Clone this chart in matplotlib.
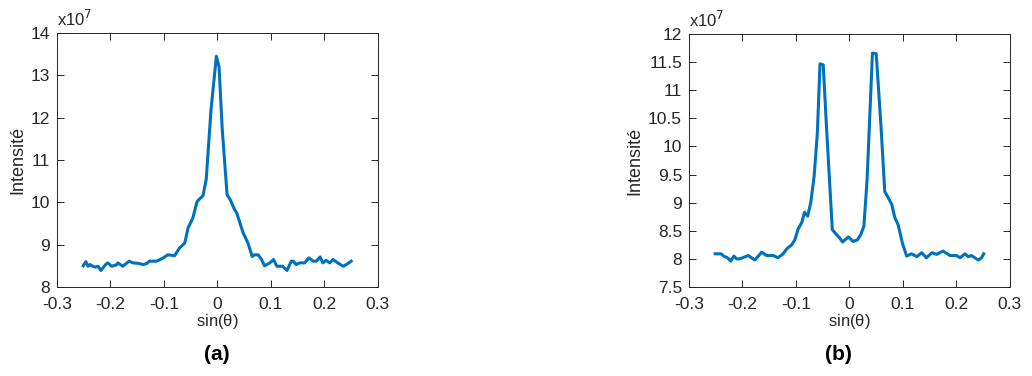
import matplotlib
matplotlib.use("Agg")
import matplotlib.pyplot as plt

# panel (a): single peak
xa = [-0.251, -0.246, -0.242, -0.238, -0.233, -0.228, -0.223, -0.218, -0.209, -0.205,
      -0.198, -0.189, -0.186, -0.177, -0.165, -0.158, -0.149, -0.139, -0.133, -0.127,
      -0.114, -0.102, -0.093, -0.080, -0.071, -0.061, -0.055, -0.046, -0.038, -0.027,
      -0.021, -0.012, -0.002, 0.003, 0.009, 0.018, 0.024, 0.032, 0.036, 0.048,
      0.057, 0.065, 0.069, 0.076, 0.082, 0.088, 0.098, 0.105, 0.111, 0.122,
      0.130, 0.138, 0.142, 0.147, 0.154, 0.163, 0.171, 0.179, 0.185, 0.192,
      0.197, 0.203, 0.210, 0.216, 0.225, 0.235, 0.241, 0.250]
ya = [8.50, 8.60, 8.49, 8.53, 8.49, 8.47, 8.49, 8.39, 8.53, 8.57,
      8.49, 8.52, 8.57, 8.49, 8.61, 8.57, 8.56, 8.53, 8.55, 8.61,
      8.61, 8.68, 8.76, 8.74, 8.92, 9.04, 9.39, 9.63, 10.02, 10.16,
      10.54, 12.19, 13.45, 13.20, 11.72, 10.18, 10.06, 9.83, 9.75, 9.28,
      9.04, 8.72, 8.76, 8.76, 8.66, 8.50, 8.57, 8.65, 8.49, 8.49,
      8.39, 8.61, 8.61, 8.53, 8.57, 8.57, 8.69, 8.61, 8.61, 8.71,
      8.57, 8.63, 8.57, 8.65, 8.57, 8.49, 8.53, 8.61]

# panel (b): double peak
xb = [-0.251, -0.240, -0.235, -0.228, -0.222, -0.216, -0.211, -0.205, -0.189, -0.177,
      -0.164, -0.155, -0.142, -0.134, -0.125, -0.117, -0.108, -0.102, -0.096, -0.089,
      -0.084, -0.078, -0.072, -0.066, -0.060, -0.055, -0.049, -0.043, -0.032, -0.024,
      -0.018, -0.013, -0.002, 0.007, 0.015, 0.021, 0.027, 0.033, 0.043, 0.050,
      0.059, 0.066, 0.073, 0.079, 0.085, 0.091, 0.099, 0.107, 0.116, 0.126,
      0.135, 0.144, 0.154, 0.163, 0.175, 0.188, 0.200, 0.207, 0.216, 0.222,
      0.228, 0.241, 0.247, 0.251]
yb = [8.09, 8.09, 8.05, 8.02, 7.96, 8.05, 8.00, 8.00, 8.06, 7.98,
      8.12, 8.06, 8.06, 8.02, 8.08, 8.18, 8.25, 8.34, 8.53, 8.65,
      8.83, 8.76, 9.02, 9.47, 10.24, 11.47, 11.45, 10.36, 8.52, 8.43,
      8.37, 8.30, 8.39, 8.31, 8.34, 8.43, 8.58, 9.41, 11.66, 11.65,
      10.36, 9.20, 9.08, 8.97, 8.73, 8.61, 8.28, 8.05, 8.09, 8.04,
      8.11, 8.02, 8.11, 8.08, 8.14, 8.06, 8.06, 8.02, 8.09, 8.04,
      8.06, 7.98, 8.02, 8.09]

xticks = [-0.3, -0.2, -0.1, 0, 0.1, 0.2, 0.3]
xticklabels = ["-0.3", "-0.2", "-0.1", "0", "0.1", "0.2", "0.3"]
yticks_a = [8, 9, 10, 11, 12, 13, 14]
yticks_b = [7.5, 8, 8.5, 9, 9.5, 10, 10.5, 11, 11.5, 12]
ytlabels_b = ["7.5", "8", "8.5", "9", "9.5", "10", "10.5", "11", "11.5", "12"]

line_color = "#0072BD"
axis_color = "#262626"

plt.rcParams.update({
    "font.family": ["Liberation Sans", "DejaVu Sans"],
    "font.size": 11,
})

fig = plt.figure(figsize=(10.32, 3.76), dpi=100)
ax_a = fig.add_axes([0.0552, 0.2367, 0.311, 0.6755])
ax_b = fig.add_axes([0.6676, 0.2367, 0.311, 0.6729])


def style(ax, yticks, ylabels, ylim):
    ax.set_xlim(-0.3, 0.3)
    ax.set_ylim(*ylim)
    ax.set_xticks(xticks)
    ax.set_xticklabels(xticklabels)
    ax.set_yticks(yticks)
    ax.set_yticklabels(ylabels)
    ax.tick_params(direction="in", length=5, width=0.7, top=True, right=True,
                   colors=axis_color, labelsize=12.5)
    ax.tick_params(axis="x", pad=7.5)
    ax.tick_params(axis="y", pad=5)
    for s in ax.spines.values():
        s.set_color(axis_color)
        s.set_linewidth(0.7)
    ax.set_xlabel(r"sin($\mathregular{\theta}$)", fontsize=12, color=axis_color, labelpad=0)
    ax.set_ylabel("Intensité", fontsize=13, color=axis_color, labelpad=3)
    ax.text(0.0, 1.015, r"x10$^7$", transform=ax.transAxes, ha="left", va="bottom",
            fontsize=12, color=axis_color)


ax_a.plot(xa, ya, color=line_color, linewidth=2.2)
style(ax_a, yticks_a, [str(v) for v in yticks_a], (8, 14))

ax_b.plot(xb, yb, color=line_color, linewidth=2.2)
style(ax_b, yticks_b, ytlabels_b, (7.5, 12))

fig.text(217 / 1032, 1 - 355 / 376, "(a)", ha="center", va="center",
         fontsize=15, fontweight="bold")
fig.text(838 / 1032, 1 - 355 / 376, "(b)", ha="center", va="center",
         fontsize=15, fontweight="bold")

fig.savefig("out.png", dpi=100)
